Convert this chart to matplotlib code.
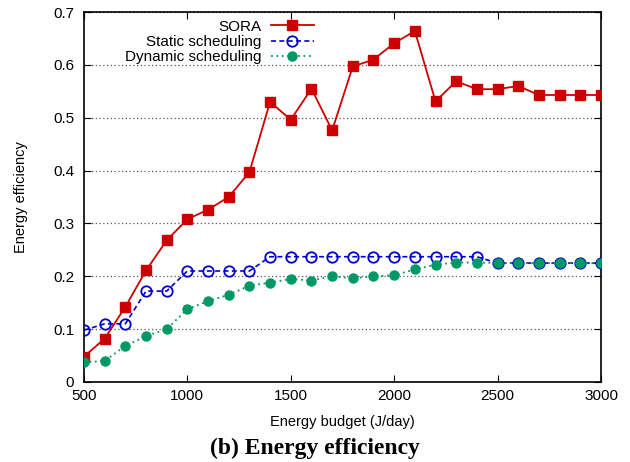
import matplotlib
matplotlib.use("Agg")
import matplotlib.pyplot as plt

budget = [500, 600, 700, 800, 900, 1000, 1100, 1200, 1300, 1400, 1500, 1600, 1700,
          1800, 1900, 2000, 2100, 2200, 2300, 2400, 2500, 2600, 2700, 2800, 2900, 3000]
sora = [0.048, 0.082, 0.142, 0.211, 0.268, 0.308, 0.326, 0.350, 0.397, 0.530, 0.496,
        0.555, 0.476, 0.597, 0.610, 0.641, 0.664, 0.531, 0.569, 0.554, 0.554, 0.560,
        0.543, 0.543, 0.543, 0.543]
static = [0.098, 0.110, 0.110, 0.172, 0.172, 0.210, 0.210, 0.210, 0.210, 0.237, 0.237,
          0.237, 0.237, 0.237, 0.237, 0.237, 0.237, 0.237, 0.237, 0.237, 0.225, 0.225,
          0.225, 0.225, 0.225, 0.225]
dynamic = [0.037, 0.040, 0.068, 0.087, 0.100, 0.138, 0.153, 0.165, 0.182, 0.188, 0.195,
           0.192, 0.200, 0.196, 0.200, 0.202, 0.213, 0.222, 0.226, 0.226, 0.225, 0.225,
           0.225, 0.225, 0.225, 0.225]

plt.rcParams['font.family'] = ['Liberation Sans', 'DejaVu Sans']

fig = plt.figure(figsize=(6.3, 4.62), dpi=100)
ax = fig.add_axes([0.1333, 0.1732, 0.8206, 0.8008])

ax.plot(budget, sora, color="#cc0000", lw=1.3, marker="s", ms=7.5,
        label="SORA", zorder=3)
ax.plot(budget, static, color="#0000cc", lw=1.2, ls=(0, (3, 2)), marker="o", ms=7.5,
        mfc="none", mew=1.3, label="Static scheduling", zorder=3)
ax.plot(budget, dynamic, color="#009966", lw=1.3, ls=(0, (1, 2)), marker="o", ms=6.5,
        label="Dynamic scheduling", zorder=4)

ax.set_xlim(500, 3000)
ax.set_ylim(0, 0.7)
ax.set_xticks([500, 1000, 1500, 2000, 2500, 3000])
ax.set_yticks([0, 0.1, 0.2, 0.3, 0.4, 0.5, 0.6, 0.7])
ax.set_yticklabels(["0", "0.1", "0.2", "0.3", "0.4", "0.5", "0.6", "0.7"])
ax.tick_params(direction="in", top=True, right=True, labelsize=11, length=5)
ax.tick_params(axis="y", pad=7)
ax.tick_params(axis="x", pad=5)
ax.yaxis.grid(True, ls=(0, (1, 2)), color="#555555", lw=0.9)

for s in ax.spines.values():
    s.set_linewidth(1.2)

ax.set_xlabel("Energy budget (J/day)", fontsize=10.5, labelpad=9)
ax.set_ylabel("Energy efficiency", fontsize=10.5, labelpad=18)

ax.legend(loc="upper right", bbox_to_anchor=(0.462, 1.004), frameon=False,
          markerfirst=False, fontsize=11, handlelength=2.8, handletextpad=0.6,
          labelspacing=0.08, borderaxespad=0.2)

fig.text(0.5, 0.006, "(b) Energy efficiency", ha="center", va="bottom",
         fontsize=17, fontweight="bold", family="Liberation Serif")

fig.savefig("out.png", dpi=100)
